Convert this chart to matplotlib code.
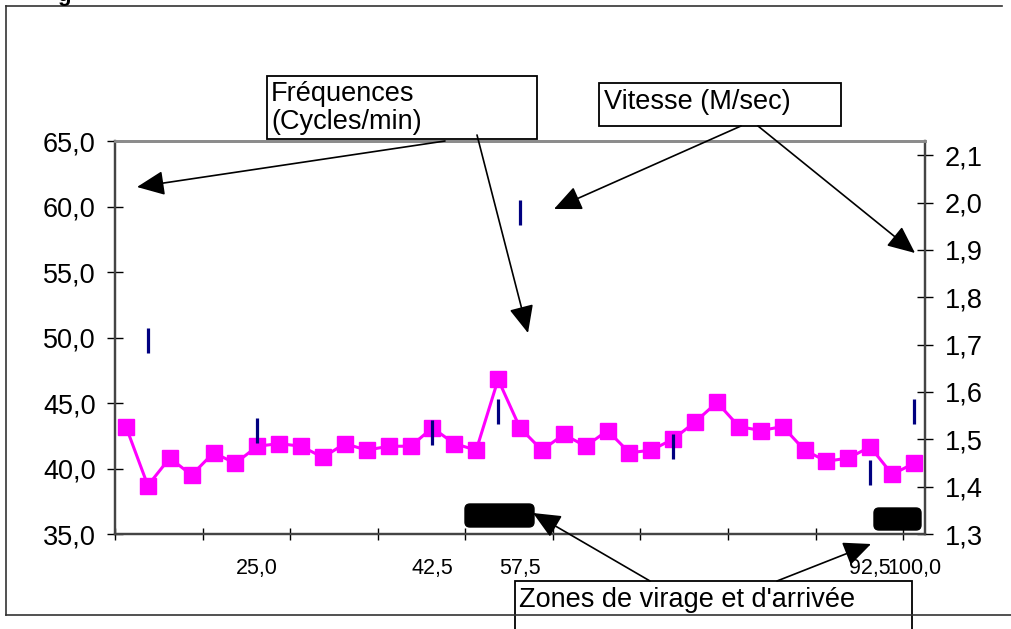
"""Stroke frequency and speed along the pool, with hand-drawn callouts."""

import matplotlib

matplotlib.use("Agg")

import matplotlib.pyplot as plt
import numpy as np
from matplotlib.patches import FancyBboxPatch, Rectangle

plt.rcParams["font.family"] = ["Liberation Sans", "DejaVu Sans"]

W, H = 1011, 629

# one category per measurement point
freq = [43.2, 38.7, 40.8, 39.5, 41.2, 40.4, 41.7, 41.9, 41.7, 40.85,
        41.9, 41.4, 41.7, 41.7, 43.1, 41.9, 41.4, 46.8, 43.1, 41.4,
        42.6, 41.7, 42.9, 41.2, 41.4, 42.25, 43.55, 45.05, 43.2, 42.9,
        43.2, 41.4, 40.55, 40.8, 41.65, 39.55, 40.4]
speed_idx = [1, 6, 14, 17, 18, 25, 34, 36]
speed_val = [1.71, 1.52, 1.515, 1.56, 1.98, 1.485, 1.43, 1.56]
label_idx = [6, 14, 18, 34, 36]
label_txt = ["25,0", "42,5", "57,5", "92,5", "100,0"]
left_ticks = [35, 40, 45, 50, 55, 60, 65]
right_ticks = [1.3, 1.4, 1.5, 1.6, 1.7, 1.8, 1.9, 2.0, 2.1]


def fmt(v: float) -> str:
    return f"{v:.1f}".replace(".", ",")


def main() -> None:
    fig = plt.figure(figsize=(W / 100, H / 100), dpi=100)

    # plot area in pixels: x 115..925, y 141..534
    ax = fig.add_axes([115 / W, (H - 534) / H, 810 / W, 393 / H])
    n = len(freq)
    x = np.arange(n)
    ax.plot(x, freq, color="#FF00FF", lw=2.2, marker="s", ms=11, zorder=3)
    ax.set_xlim(-0.5, n - 0.5)
    ax.set_ylim(35, 65)
    ax.set_yticks(left_ticks, [fmt(v) for v in left_ticks], fontsize=19.5)
    ax.tick_params(axis="y", direction="inout", length=12, width=1, pad=8)
    ax.set_xticks(label_idx, label_txt, fontsize=15.5)
    ax.tick_params(axis="x", which="major", length=0, pad=17)
    ax.set_xticks(np.arange(-0.5, n, 4), minor=True)
    ax.tick_params(axis="x", which="minor", direction="inout", length=9, width=1)

    ax2 = ax.twinx()
    sp = np.full(n, np.nan)
    sp[speed_idx] = speed_val
    ax2.plot(x, sp, ls="none", marker="|", ms=18, mew=2.3, color="#000080")
    ax2.set_ylim(1.3, 2.13)
    ax2.set_yticks(right_ticks, [fmt(v) for v in right_ticks], fontsize=19.5)
    ax2.tick_params(axis="y", direction="inout", length=12, width=1, pad=8)

    for a in (ax, ax2):
        a.spines["top"].set_color("#8c8c8c")
        a.spines["top"].set_linewidth(2)
        for s in ("left", "right", "bottom"):
            a.spines[s].set_color("#444444")
            a.spines[s].set_linewidth(1.6)

    # overlay in pixel coordinates for the drawn callouts
    ov = fig.add_axes([0, 0, 1, 1], zorder=10)
    ov.set_xlim(0, W)
    ov.set_ylim(H, 0)
    ov.axis("off")
    ov.patch.set_alpha(0)

    frame = dict(color="#333333", lw=1.2)
    ov.plot([6, 6], [6, 615], **frame)
    ov.plot([6, 1002], [6, 6], **frame)
    ov.plot([6, W], [615, 615], **frame)
    # title above the frame, cropped in the original
    ov.text(64, 1, "g", fontsize=16, fontweight="bold", ha="center", va="baseline")

    boxes = [
        (267, 76, 270, 63, "Fréquences\n(Cycles/min)", (271, 81)),
        (599, 83, 242, 43, "Vitesse (M/sec)", (604, 89)),
        (515, 581, 397, 60, "Zones de virage et d'arrivée", (519, 587)),
    ]
    for bx, by, bw, bh, txt, (tx, ty) in boxes:
        ov.add_patch(Rectangle((bx, by), bw, bh, facecolor="white",
                               edgecolor="black", lw=1.3))
        ov.text(tx, ty, txt, fontsize=19.5, ha="left", va="top", linespacing=1.12)

    for bx, by, bw, bh in [(465, 504, 69, 23), (874, 508, 47, 22)]:
        ov.add_patch(FancyBboxPatch((bx, by), bw, bh,
                                    boxstyle="round,pad=0,rounding_size=5",
                                    facecolor="black", edgecolor="black"))

    arrows = [
        ((445, 141), (137, 187)),
        ((477, 135), (528, 333)),
        ((741, 126), (554, 209)),
        ((758, 126), (915, 253)),
        ((650, 581), (533, 513)),
        ((777, 581), (871, 544)),
    ]
    for start, tip in arrows:
        ov.annotate("", xy=tip, xytext=start,
                    arrowprops=dict(arrowstyle="-|>,head_length=0.85,head_width=0.38",
                                    mutation_scale=20, color="black", lw=1.2,
                                    shrinkA=0, shrinkB=0))

    fig.savefig("out.png", dpi=100)
    plt.close(fig)


if __name__ == "__main__":
    main()
